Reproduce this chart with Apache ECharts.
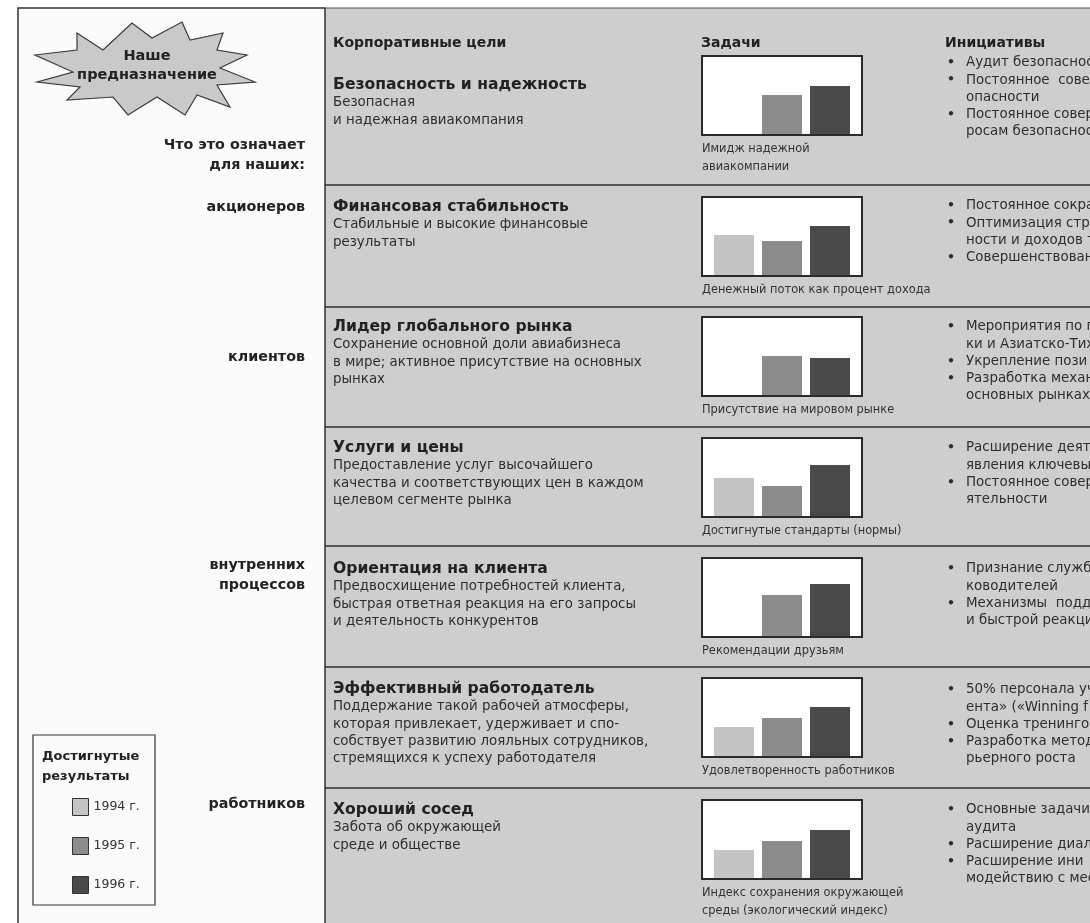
<!DOCTYPE html>
<html>
<head>
<meta charset="utf-8">
<script src="https://cdn.jsdelivr.net/npm/echarts@6/dist/echarts.min.js"></script>
<style>
  html, body { margin: 0; padding: 0; background: #ffffff; }
  #chart { width: 1090px; height: 923px; }
</style>
</head>
<body>
<div id="chart"></div>
<script>
// Years shown in each small bar chart
const years = ['1994 г.', '1995 г.', '1996 г.'];

// Achieved results per corporate goal (relative bar heights), one value per goal row
const v1994 = [null, 40, null, 38, null, 29, 28];
const v1995 = [39, 34, 39, 30, 41, 38, 37];
const v1996 = [48, 49, 37, 51, 52, 49, 48];

// Corporate goals: heading and description lines
const goalTitles = [
  'Безопасность и надежность',
  'Финансовая стабильность',
  'Лидер глобального рынка',
  'Услуги и цены',
  'Ориентация на клиента',
  'Эффективный работодатель',
  'Хороший сосед'
];
const goalTexts = [
  ['Безопасная', 'и надежная авиакомпания'],
  ['Стабильные и высокие финансовые', 'результаты'],
  ['Сохранение основной доли авиабизнеса', 'в мире; активное присутствие на основных', 'рынках'],
  ['Предоставление услуг высочайшего', 'качества и соответствующих цен в каждом', 'целевом сегменте рынка'],
  ['Предвосхищение потребностей клиента,', 'быстрая ответная реакция на его запросы', 'и деятельность конкурентов'],
  ['Поддержание такой рабочей атмосферы,', 'которая привлекает, удерживает и спо-', 'собствует развитию лояльных сотрудников,', 'стремящихся к успеху работодателя'],
  ['Забота об окружающей', 'среде и обществе']
];

// Measure captions under each small chart
const measureLabels = [
  ['Имидж надежной', 'авиакомпании'],
  ['Денежный поток как процент дохода'],
  ['Присутствие на мировом рынке'],
  ['Достигнутые стандарты (нормы)'],
  ['Рекомендации друзьям'],
  ['Удовлетворенность работников'],
  ['Индекс сохранения окружающей', 'среды (экологический индекс)']
];

// Initiatives; lines beginning with "• " start a new bullet
const initiatives = [
  ['• Аудит безопаснос', '• Постоянное  сове', 'опасности', '• Постоянное совер', 'росам безопаснос'],
  ['• Постоянное сокра', '• Оптимизация стру', 'ности и доходов т', '• Совершенствован'],
  ['• Мероприятия по п', 'ки и Азиатско-Тих', '• Укрепление пози', '• Разработка механ', 'основных рынках'],
  ['• Расширение деят', 'явления ключевы', '• Постоянное совер', 'ятельности'],
  ['• Признание служб', 'ководителей', '• Механизмы  подд', 'и быстрой реакци'],
  ['• 50% персонала уч', 'ента» («Winning f', '• Оценка тренингов', '• Разработка метод', 'рьерного роста'],
  ['• Основные задачи', 'аудита', '• Расширение диал', '• Расширение ини', 'модействию с мес']
];

// Stakeholder labels in the left column
const stakeholders = [
  { lines: ['Что это означает', 'для наших:'], y: 145 },
  { lines: ['акционеров'], y: 207 },
  { lines: ['клиентов'], y: 357 },
  { lines: ['внутренних', 'процессов'], y: 565 },
  { lines: ['работников'], y: 804 }
];

const colors = ['#c4c4c4', '#8c8c8c', '#4a4a4a'];
const FONT = '"DejaVu Sans", "Noto Sans", sans-serif';
const INK = '#222222';

// Row layout
const boxTop = [56, 197, 317, 438, 558, 678, 800];
const titleY = [85, 207, 327, 448, 569, 689, 810];
const initY = [63, 206, 327, 448, 569, 690, 810];
const sepY = [185, 307, 427, 546, 667, 788];
const BOX_X = 702, BOX_W = 160, BOX_H = 79;
const values = [v1994, v1995, v1996];

function txt(text, x, y, size, weight, align, color) {
  return {
    type: 'text', z: 5, silent: true,
    style: {
      text: text, x: x, y: y,
      fontSize: size, fontWeight: weight || 'normal', fontFamily: FONT,
      fill: color || INK,
      align: align || 'left', textAlign: align || 'left',
      verticalAlign: 'middle', textVerticalAlign: 'middle'
    }
  };
}

const graphics = [];
// Panels
graphics.push({ type: 'rect', z: -10, silent: true, shape: { x: 325, y: 8, width: 780, height: 930 }, style: { fill: '#cecece' } });
graphics.push({ type: 'rect', z: -9, silent: true, shape: { x: 18, y: 8, width: 307, height: 930 }, style: { fill: '#fbfbfb', stroke: '#333', lineWidth: 1.5 } });
graphics.push({ type: 'line', z: -8, silent: true, shape: { x1: 325, y1: 8, x2: 1090, y2: 8 }, style: { stroke: '#555', lineWidth: 1.2 } });

// Starburst heading
const star = [[77,33],[103,50],[132,23],[152,38],[182,22],[190,40],[223,33],[217,50],[247,55],[220,68],[255,82],[217,85],[230,107],[197,95],[185,115],[157,97],[128,115],[113,97],[67,100],[80,87],[37,82],[73,72],[35,55],[77,50]];
graphics.push({ type: 'polygon', z: 1, silent: true, shape: { points: star }, style: { fill: '#c9c9c9', stroke: '#3a3a3a', lineWidth: 1.2 } });
graphics.push(txt('Наше', 147, 56, 14.5, 'bold', 'center'));
graphics.push(txt('предназначение', 147, 75, 14.5, 'bold', 'center'));

// Stakeholders
stakeholders.forEach(function (s) {
  s.lines.forEach(function (l, j) { graphics.push(txt(l, 305, s.y + j * 20.5, 14.3, 'bold', 'right')); });
});

// Legend frame and title
graphics.push({ type: 'rect', z: 1, silent: true, shape: { x: 33, y: 735, width: 122, height: 170 }, style: { fill: '#fbfbfb', stroke: '#333', lineWidth: 1.2 } });
graphics.push(txt('Достигнутые', 42, 757, 13, 'bold', 'left'));
graphics.push(txt('результаты', 42, 777, 13, 'bold', 'left'));

// Column headers
graphics.push(txt('Корпоративные цели', 333, 43, 14, 'bold', 'left'));
graphics.push(txt('Задачи', 701, 43, 14, 'bold', 'left'));
graphics.push(txt('Инициативы', 945, 43, 14, 'bold', 'left'));

// Row separators
sepY.forEach(function (y) {
  graphics.push({ type: 'line', z: 2, silent: true, shape: { x1: 325, y1: y, x2: 1090, y2: y }, style: { stroke: '#2e2e2e', lineWidth: 1.6 } });
});

goalTitles.forEach(function (t, i) {
  graphics.push(txt(t, 333, titleY[i], 15.6, 'bold', 'left'));
  goalTexts[i].forEach(function (l, j) { graphics.push(txt(l, 333, titleY[i] + 18 + j * 17.3, 13.4, 'normal', 'left', '#2e2e2e')); });
  // chart frame
  graphics.push({ type: 'rect', z: 0, silent: true, shape: { x: BOX_X, y: boxTop[i], width: BOX_W, height: BOX_H }, style: { fill: '#ffffff', stroke: '#2a2a2a', lineWidth: 2 } });
  measureLabels[i].forEach(function (l, j) { graphics.push(txt(l, 702, boxTop[i] + BOX_H + 14 + j * 18, 11.4, 'normal', 'left', '#333')); });
  initiatives[i].forEach(function (l, j) {
    const y = initY[i] + j * 17.2;
    if (l.indexOf('• ') === 0) {
      graphics.push(txt('•', 947, y, 12.5, 'bold', 'left', '#2e2e2e'));
      graphics.push(txt(l.slice(2), 966, y, 13.4, 'normal', 'left', '#2e2e2e'));
    } else {
      graphics.push(txt(l, 966, y, 13.4, 'normal', 'left', '#2e2e2e'));
    }
  });
});

// One small grid per goal row
const grids = [], xAxes = [], yAxes = [], series = [];
boxTop.forEach(function (top, i) {
  grids.push({ left: 710, width: 144, top: top + 1, height: 77 });
  xAxes.push({ type: 'category', gridIndex: i, data: years, show: false });
  yAxes.push({ type: 'value', gridIndex: i, min: 0, max: 77, show: false, splitLine: { show: false } });
  years.forEach(function (y, k) {
    series.push({
      type: 'bar', name: y, xAxisIndex: i, yAxisIndex: i,
      data: years.map(function (_, j) { const v = values[k][i]; return j === k && v != null ? v : '-'; }),
      barWidth: 40, barGap: '-100%', z: 3, silent: true,
      itemStyle: { color: colors[k] }
    });
  });
});

const chart = echarts.init(document.getElementById('chart'), null, { renderer: 'canvas' });
chart.setOption({
  animation: false,
  backgroundColor: '#ffffff',
  color: colors,
  grid: grids,
  xAxis: xAxes,
  yAxis: yAxes,
  legend: {
    data: years, orient: 'vertical', left: 72, top: 798, padding: 0,
    itemWidth: 16, itemHeight: 17, itemGap: 21, icon: 'rect', selectedMode: false,
    itemStyle: { borderColor: '#333', borderWidth: 1 },
    textStyle: { fontFamily: FONT, fontSize: 12.5, color: '#333' }
  },
  graphic: graphics,
  series: series
});
</script>
</body>
</html>
